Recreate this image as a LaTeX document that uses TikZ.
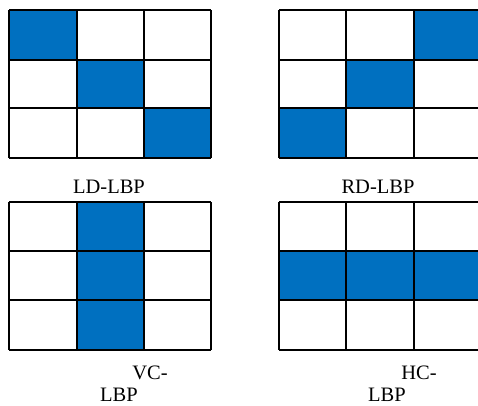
\documentclass[tikz,border=0pt]{standalone}
\usepackage{fontspec}
\setmainfont{Liberation Serif}
\definecolor{cellblue}{HTML}{0070C0}
\begin{document}
\begin{tikzpicture}[x=1pt,y=-1pt,
  lbl/.style={font=\fontsize{20.5}{22}\selectfont, inner sep=0pt, anchor=base},
  cellfill/.style={fill=cellblue, draw=none}]
\useasboundingbox[fill=white] (0,0) rectangle (478,405);

% grid geometry: column edges and row edges
\def\LX{{9,77,144,211}}
\def\RX{{279,346,414,481}}
\def\TY{{10,60,108,158}}
\def\BY{{202,251,300,350}}

% filled cells (column,row)
% LD-LBP
\foreach \c/\r in {0/0,1/1,2/2}
  \fill[cellblue] ({\LX[\c]},{\TY[\r]}) rectangle ({\LX[\c+1]},{\TY[\r+1]});
% RD-LBP
\foreach \c/\r in {2/0,1/1,0/2}
  \fill[cellblue] ({\RX[\c]},{\TY[\r]}) rectangle ({\RX[\c+1]},{\TY[\r+1]});
% VC-LBP
\foreach \r in {0,1,2}
  \fill[cellblue] ({\LX[1]},{\BY[\r]}) rectangle ({\LX[2]},{\BY[\r+1]});
% HC-LBP
\foreach \c in {0,1,2}
  \fill[cellblue] ({\RX[\c]},{\BY[1]}) rectangle ({\RX[\c+1]},{\BY[2]});

% grid lines
\foreach \gx/\gy/\lw in {\LX/\TY/1.7pt,\RX/\TY/1.7pt,\LX/\BY/1.3pt,\RX/\BY/1.3pt}{
  \foreach \i in {0,1,2,3}{
    \draw[line width=\lw] ({\gx[\i]},{\gy[0]}) -- ({\gx[\i]},{\gy[3]});
    \draw[line width=\lw] ({\gx[0]},{\gy[\i]}) -- ({\gx[3]},{\gy[\i]});
  }
}

% labels
\node[lbl] (ld)  at (109,193) {LD-LBP};
\node[lbl] (rd)  at (378,193) {RD-LBP};
\node[lbl] (vc)  at (150,379) {VC-};
\node[lbl] (vcl) at (119,401) {LBP};
\node[lbl] (hc)  at (419,379) {HC-};
\node[lbl] (hcl) at (387,401) {LBP};
\end{tikzpicture}
\end{document}
